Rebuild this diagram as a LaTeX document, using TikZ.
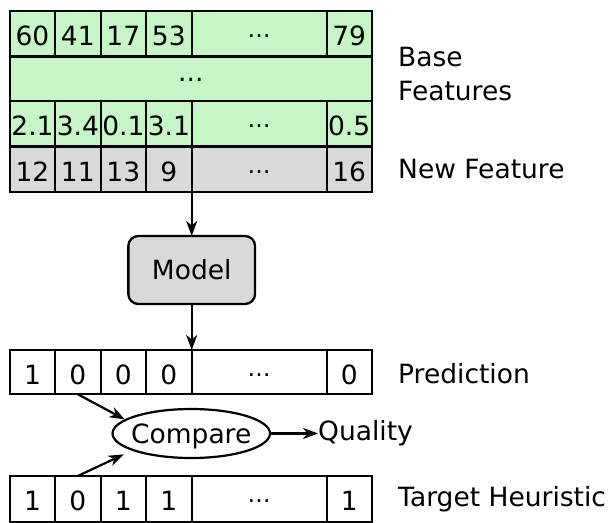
\documentclass[tikz,border=0pt]{standalone}
\usepackage{fontspec}
\setmainfont{DejaVu Sans}
\usetikzlibrary{shapes.geometric,arrows.meta}
\definecolor{featgreen}{RGB}{198,245,198}
\definecolor{featgray}{RGB}{217,217,217}
\newcommand\celldots{\raisebox{8pt}{\fontsize{23}{23}\selectfont …}}
% #1 name, #2 y centre, #3 height, #4 fill, #5-#8 first four texts, #9 last text
\newcommand\mkrow[9]{%
  \node[cellbox,fill=#4,minimum height=#3pt,minimum width=45pt]   (#1-1) at (32.5,#2)  {#5};
  \node[cellbox,fill=#4,minimum height=#3pt,minimum width=45.7pt] (#1-2) at (77.85,#2) {#6};
  \node[cellbox,fill=#4,minimum height=#3pt,minimum width=45.3pt] (#1-3) at (123.35,#2) {#7};
  \node[cellbox,fill=#4,minimum height=#3pt,minimum width=45.7pt] (#1-4) at (168.85,#2) {#8};
  \node[cellbox,fill=#4,minimum height=#3pt,minimum width=135pt]  (#1-5) at (259.2,#2) {\celldots};
  \node[cellbox,fill=#4,minimum height=#3pt,minimum width=45pt]   (#1-6) at (349.2,#2) {#9};
}
\tikzset{
  cellbox/.style={draw, line width=2.3pt, inner sep=0pt, outer sep=0pt, text height=24pt, text depth=0pt,
    font=\fontsize{26.5}{30}\selectfont},
  lbl/.style={inner sep=0pt, font=\fontsize{26.5}{34}\selectfont, anchor=base west},
  arr/.style={line width=2.2pt, -{Stealth[length=15pt,width=11pt,inset=4.5pt]}},
}
\begin{document}
\begin{tikzpicture}[x=1pt,y=-1pt]
\useasboundingbox (0,0) rectangle (613,522);
% feature table
\mkrow{ra}{33.75}{45.5}{featgreen}{60}{41}{17}{53}{79}
\node[cellbox,fill=featgreen,minimum width=361.7pt,minimum height=44.5pt] (mid) at (190.85,78.75) {\raisebox{9pt}{...}};
\mkrow{rc}{123.75}{45.5}{featgreen}{2.1}{3.4}{0.1}{3.1}{0.5}
\mkrow{rd}{169.25}{45.5}{featgray}{12}{11}{13}{9}{16}
% labels
\node[lbl,anchor=west,align=left] (basef) at (398,73.8) {Base\\Features};
\node[lbl] (newf) at (398,178.3) {New Feature};
% model
\node[draw, line width=2.3pt, rounded corners=10pt, fill=featgray, minimum width=126.7pt,
  minimum height=68pt, inner sep=0pt, outer sep=0pt, text height=19.3pt, text depth=0pt,
  font=\fontsize{26.5}{30}\selectfont] (model) at (191.7,270) {Model};
% prediction and target
\mkrow{p}{372.15}{44.3}{white}{1}{0}{0}{0}{0}
\mkrow{t}{498.85}{45.7}{white}{1}{0}{1}{1}{1}
\node[lbl] (predl) at (398,383.3) {Prediction};
\node[lbl] (targl) at (398,506.7) {Target Heuristic};
% compare
\node[ellipse, draw, line width=2.2pt, minimum width=157.5pt, minimum height=49pt, inner sep=0pt,
  text height=20pt, text depth=0pt, font=\fontsize{26.5}{30}\selectfont] (cmp) at (191.25,433.5)
  {\makebox[0pt]{Compare}};
\node[inner sep=0pt, anchor=west, font=\fontsize{26.5}{30}\selectfont] (qual) at (318,433.5) {Quality};
% connectors
\draw[arr] (rd-5.south west) -- (model.north);
\draw[arr] (model.south) -- (p-5.north west);
\draw[arr] (p-2.south) -- (cmp.168);
\draw[arr, shorten >=9pt] (t-2.north) -- (cmp.196);
\draw[arr] (cmp.east) -- (qual.west);
\end{tikzpicture}
\end{document}
